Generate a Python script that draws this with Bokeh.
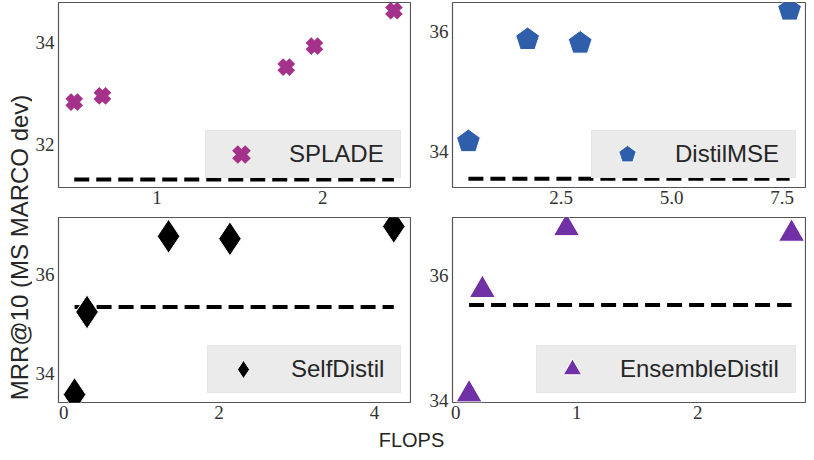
import math
from bokeh.plotting import figure
from bokeh.models import (Range1d, FixedTicker, Legend, LegendItem, Label,
                          PrintfTickFormatter)
from bokeh.layouts import row, column
from bokeh.embed import file_html
from bokeh.resources import INLINE

# ---- data ----
splade_x = [0.50, 0.67, 1.78, 1.95, 2.43]
splade_y = [32.83, 32.95, 33.51, 33.92, 34.61]
splade_base = 31.32

distilmse_x = [0.40, 1.74, 2.93, 7.67]
distilmse_y = [34.16, 35.86, 35.80, 36.35]
distilmse_base = 33.54

selfdistil_x = [0.14, 0.30, 1.35, 2.14, 4.25]
selfdistil_y = [33.57, 35.24, 36.77, 36.72, 36.97]
selfdistil_base = 35.34

ensemble_x = [0.11, 0.22, 0.915, 2.775]
ensemble_y = [34.10, 35.77, 36.76, 36.67]
ensemble_base = 35.53

x_ticks = [[1, 2], [2.5, 5.0, 7.5], [0, 2, 4], [0, 1, 2]]
y_ticks = [[32, 34], [34, 36], [34, 36], [34, 36]]

C_SPLADE = "#A4328B"
C_MSE = "#2F5FAA"
C_SELF = "#000000"
C_ENS = "#7031A6"

TXT = "#262626"
TICK = "#333333"
SANS = "Liberation Sans"
SERIF = "Liberation Serif"

FRAME_W = 353
FRAME_H = 185
YW = 32          # width of the strip holding the shared y label
TOTAL_H = 452


def make_panel(bl, br, bt, bb, xr, yr, xt, yt):
    p = figure(width=bl + FRAME_W + br, height=bt + FRAME_H + bb,
               x_range=Range1d(*xr), y_range=Range1d(*yr),
               output_backend="svg", toolbar_location=None, title=None,
               min_border_left=bl, min_border_right=br,
               min_border_top=bt, min_border_bottom=bb)
    p.xgrid.visible = False
    p.ygrid.visible = False
    p.background_fill_color = "white"
    p.border_fill_color = "white"
    p.outline_line_color = "#555555"
    p.outline_line_width = 1.2
    for ax in (p.xaxis[0], p.yaxis[0]):
        ax.axis_line_color = None
        ax.major_tick_line_color = None
        ax.minor_tick_line_color = None
        ax.major_tick_out = 0
        ax.major_tick_in = 0
        ax.minor_tick_out = 0
        ax.major_label_text_font = SERIF
        ax.major_label_text_font_size = "19px"
        ax.major_label_text_color = TICK
    p.xaxis[0].major_label_standoff = 3
    p.yaxis[0].major_label_standoff = 4
    p.xaxis[0].ticker = FixedTicker(ticks=xt)
    p.yaxis[0].ticker = FixedTicker(ticks=yt)
    return p


def add_legend(p, label, r, label_width):
    leg = Legend(items=[LegendItem(label=label, renderers=[r])],
                 location="bottom_right", margin=9, padding=0,
                 glyph_width=70, glyph_height=46, label_standoff=13,
                 label_width=label_width,
                 label_text_font=SANS, label_text_font_size="24px",
                 label_text_color=TXT,
                 background_fill_color="#EBEBEB", background_fill_alpha=1.0,
                 border_line_color="#E2E2E2", border_line_width=1)
    p.add_layout(leg)


def baseline(p, xs, b):
    p.line(x=[min(xs), max(xs)], y=[b, b], line_color="black",
           line_width=4, line_dash="15 7")


# Panel 1: SPLADE
p1 = make_panel(57 - YW, 1, 2, 29, (0.405, 2.53), (31.165, 34.77), x_ticks[0], y_ticks[0])
baseline(p1, splade_x, splade_base)
r1 = p1.scatter(splade_x, splade_y, marker="x", size=17, line_color=C_SPLADE,
                line_width=8)
add_legend(p1, "SPLADE", r1, 111)

# Panel 2: DistilMSE
p2 = make_panel(41, 1, 2, 29, (0.04, 8.03), (33.395, 36.475), x_ticks[1], y_ticks[1])
p2.xaxis[0].formatter = PrintfTickFormatter(format="%.1f")
baseline(p2, distilmse_x, distilmse_base)
if hasattr(p2, "ngon"):
    r2 = p2.ngon(x=distilmse_x, y=distilmse_y, radius=12.5, radius_units="screen",
                 n=5, fill_color=C_MSE, line_color="white", line_width=1)
else:
    r2 = p2.scatter(distilmse_x, distilmse_y, marker="hex", size=25,
                    fill_color=C_MSE, line_color="white", line_width=1)
add_legend(p2, "DistilMSE", r2, 120)

# Panel 3: SelfDistil
p3 = make_panel(57 - YW, 1, 1, 25, (-0.067, 4.465), (33.41, 37.15), x_ticks[2], y_ticks[2])
baseline(p3, selfdistil_x, selfdistil_base)
r3 = p3.scatter(selfdistil_x, selfdistil_y, marker="diamond", size=34,
                fill_color=C_SELF, line_color="white", line_width=1)
add_legend(p3, "SelfDistil", r3, 109)

# Panel 4: EnsembleDistil
p4 = make_panel(41, 1, 1, 25, (-0.027, 2.89), (33.97, 36.93), x_ticks[3], y_ticks[3])
baseline(p4, ensemble_x, ensemble_base)
r4 = p4.scatter(ensemble_x, ensemble_y, marker="triangle", size=26,
                fill_color=C_ENS, line_color="white", line_width=1)
add_legend(p4, "EnsembleDistil", r4, 175)

grid_w = p1.width + p2.width
grid_h = p1.height + p3.height
xlab_h = TOTAL_H - grid_h


def strip(w, h):
    s = figure(width=w, height=h, x_range=Range1d(0, w), y_range=Range1d(0, h),
               output_backend="svg", toolbar_location=None, title=None,
               min_border_left=0, min_border_right=0,
               min_border_top=0, min_border_bottom=0)
    s.axis.visible = False
    s.grid.visible = False
    s.outline_line_color = None
    s.background_fill_color = "white"
    s.border_fill_color = "white"
    return s


xlab = strip(grid_w, xlab_h)
xlab.add_layout(Label(x=411 - YW, y=xlab_h / 2, text="FLOPS", text_align="center",
                      text_baseline="middle", text_font=SANS,
                      text_font_size="20px", text_color=TXT))

ylab = strip(YW, TOTAL_H)
ylab.add_layout(Label(x=19, y=TOTAL_H - 247, text="MRR@10 (MS MARCO dev)",
                      angle=math.pi / 2, text_align="center",
                      text_baseline="middle", text_font=SANS,
                      text_font_size="24px", text_color=TXT))

layout = row(ylab, column(row(p1, p2), row(p3, p4), xlab))

open("out.html", "w").write(file_html(layout, INLINE))
